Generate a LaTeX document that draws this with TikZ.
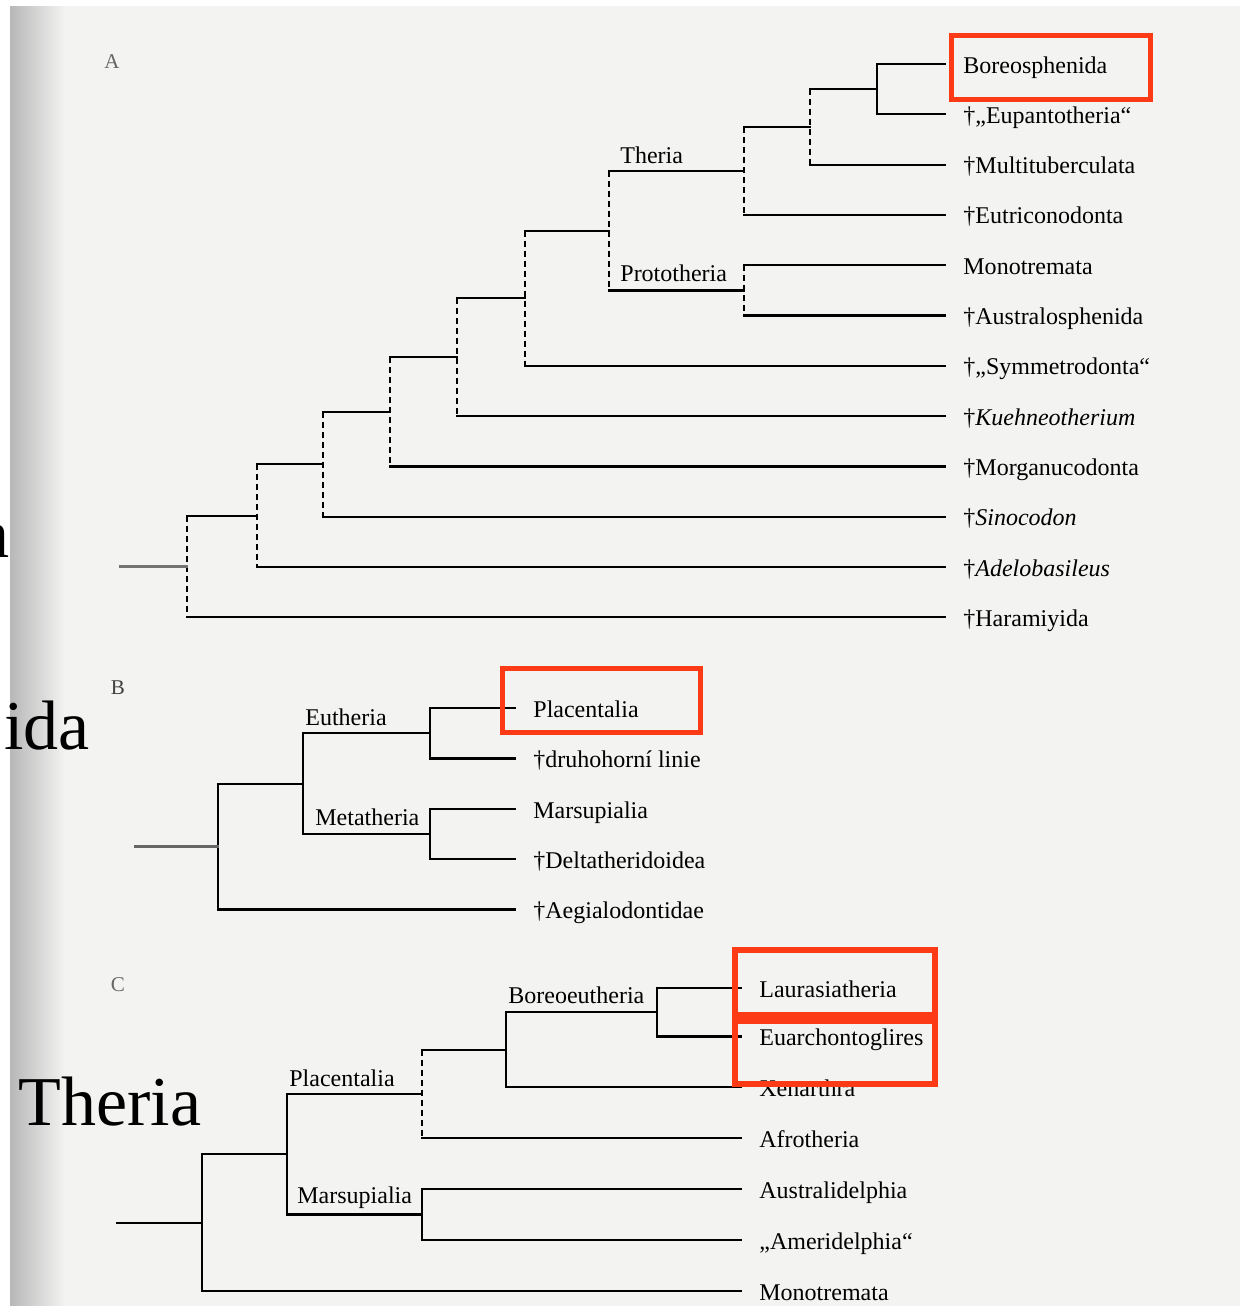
\documentclass[tikz,border=0pt]{standalone}
\usepackage{fontspec}
\setmainfont{Liberation Serif}

\definecolor{pagegray}{RGB}{243,243,242}
\definecolor{markred}{RGB}{252,58,22}

\tikzset{
  taxon/.style={anchor=west, inner xsep=9pt, inner ysep=0pt, text height=10pt, text depth=1pt, font=\fontsize{12}{14}\selectfont},
  group/.style={anchor=base west, inner sep=0pt, font=\fontsize{12}{14}\selectfont},
  panel/.style={inner sep=0pt, text=black!60, font=\fontsize{10.5}{12}\selectfont},
  bigword/.style={inner sep=0pt, font=\fontsize{35}{40}\selectfont},
  branch/.style={line width=1.1pt, line cap=rect},
  sure/.style={line width=1.1pt},
  unsure/.style={line width=1.3pt, dash pattern=on 3pt off 2pt},
  highlight/.style={draw=markred, line width=2.5pt}
}

\begin{document}
\begin{tikzpicture}[x=0.5pt, y=-0.5pt]
\useasboundingbox (0,0) rectangle (1240,1306);

% scanned page
\fill[white] (0,0) rectangle (1240,1306);
\fill[pagegray] (10,6) rectangle (1240,1306);
\shade[left color=black!28, right color=pagegray] (10,6) rectangle (65,1306);

% slide text behind
\node[bigword, anchor=base east] (frag1) at (10,557) {a};
\node[bigword, anchor=base east] (frag2) at (90,749) {ida};
\node[bigword, anchor=base west] (frag3) at (18,1125) {Theria};

%%%% A
\node[panel] (labA) at (112,62) {A};

\foreach \id/\y/\txt in {boreo/64/Boreosphenida, eupant/114.3/†„Eupantotheria“,
  multi/164.6/†Multituberculata, eutri/214.9/†Eutriconodonta, monoA/265.2/Monotremata,
  austr/315.5/†Australosphenida, symm/365.8/†„Symmetrodonta“,
  kuehn/416.1/†\textit{Kuehneotherium}, morg/466.4/†Morganucodonta,
  sino/516.7/†\textit{Sinocodon}, adelo/567/†\textit{Adelobasileus}, haram/617.3/†Haramiyida}
{
    \node[taxon] (\id) at (945,\y) {\txt};
}

\coordinate (a1) at (877,89.2);
\coordinate (a2) at (810,126.9);
\coordinate (theria) at (744,170.9);
\coordinate (proto) at (744,290.4);
\coordinate (a3) at (609,230.6);
\coordinate (a4) at (525,298.2);
\coordinate (a5) at (457,357.1);
\coordinate (a6) at (390,411.8);
\coordinate (a7) at (323,464.2);
\coordinate (a8) at (257,515.6);
\coordinate (rootA) at (187,566.5);
\coordinate (baseA) at (120,566.5);

\foreach \n/\up/\down/\look in {a1/boreo.west/eupant.west/sure, a2/a1/multi.west/unsure,
  theria/a2/eutri.west/unsure, proto/monoA.west/austr.west/unsure, a3/theria/proto/unsure,
  a4/a3/symm.west/unsure, a5/a4/kuehn.west/unsure, a6/a5/morg.west/unsure,
  a7/a6/sino.west/unsure, a8/a7/adelo.west/unsure, rootA/a8/haram.west/unsure}
{
    \draw[\look] (\n |- \up) -- (\n |- \down);
    \draw[branch] (\n |- \up) -- (\up) (\n |- \down) -- (\down);
}
\draw[branch, black!55] (baseA) -- (rootA);

\node[group] (theriaLab) at (620,163) {Theria};
\node[group] (protoLab) at (620,281) {Prototheria};

%%%% B
\node[panel, text=black!75] (labB) at (118,688) {B};

\foreach \id/\y/\txt in {placB/708/Placentalia, druho/758.5/†druhohorní linie,
  marsB/809/Marsupialia, delta/859/†Deltatheridoidea, aegi/909.5/†Aegialodontidae}
{
    \node[taxon] (\id) at (515,\y) {\txt};
}

\coordinate (eu) at (430,733.2);
\coordinate (meta) at (430,834);
\coordinate (b1) at (303,783.6);
\coordinate (rootB) at (218,846.5);
\coordinate (baseB) at (135,846.5);

\foreach \n/\up/\down/\look in {eu/placB.west/druho.west/sure, meta/marsB.west/delta.west/sure,
  b1/eu/meta/sure, rootB/b1/aegi.west/sure}
{
    \draw[\look] (\n |- \up) -- (\n |- \down);
    \draw[branch] (\n |- \up) -- (\up) (\n |- \down) -- (\down);
}
\draw[branch, black!60] (baseB) -- (rootB);

\node[group] (euLab) at (305,725) {Eutheria};
\node[group] (metaLab) at (315,825) {Metatheria};

%%%% C
\node[panel] (labC) at (118,985) {C};

\foreach \id/\y/\txt in {laur/988/Laurasiatheria, euarch/1036.5/Euarchontoglires,
  xen/1087/Xenarthra, afro/1138/Afrotheria, austral/1189/Australidelphia,
  amer/1240/„Ameridelphia“, monoC/1291/Monotremata}
{
    \node[taxon] (\id) at (741,\y) {\txt};
}

\coordinate (boreoC) at (657,1012.2);
\coordinate (c2) at (506,1049.6);
\coordinate (placC) at (422,1093.8);
\coordinate (marsC) at (422,1214.5);
\coordinate (c3) at (287,1154.2);
\coordinate (rootC) at (202,1222.6);
\coordinate (baseC) at (117,1222.6);

\foreach \n/\up/\down/\look in {boreoC/laur.west/euarch.west/sure, c2/boreoC/xen.west/sure,
  placC/c2/afro.west/unsure, marsC/austral.west/amer.west/sure,
  c3/placC/marsC/sure, rootC/c3/monoC.west/sure}
{
    \draw[\look] (\n |- \up) -- (\n |- \down);
    \draw[branch] (\n |- \up) -- (\up) (\n |- \down) -- (\down);
}
\draw[branch] (baseC) -- (rootC);

\node[group] (boreoLab) at (508,1003) {Boreoeutheria};
\node[group] (placLab) at (289,1086) {Placentalia};
\node[group] (marsLab) at (297,1203) {Marsupialia};

% red frames
\draw[highlight] (951,35.5) rectangle (1150,99.5);
\draw[highlight] (502,668) rectangle (700.5,732);
\draw[highlight, line width=3pt] (735,950) rectangle (934.5,1014.5);
\draw[highlight, line width=3pt] (735,1021) rectangle (934.5,1084);

\end{tikzpicture}
\end{document}
